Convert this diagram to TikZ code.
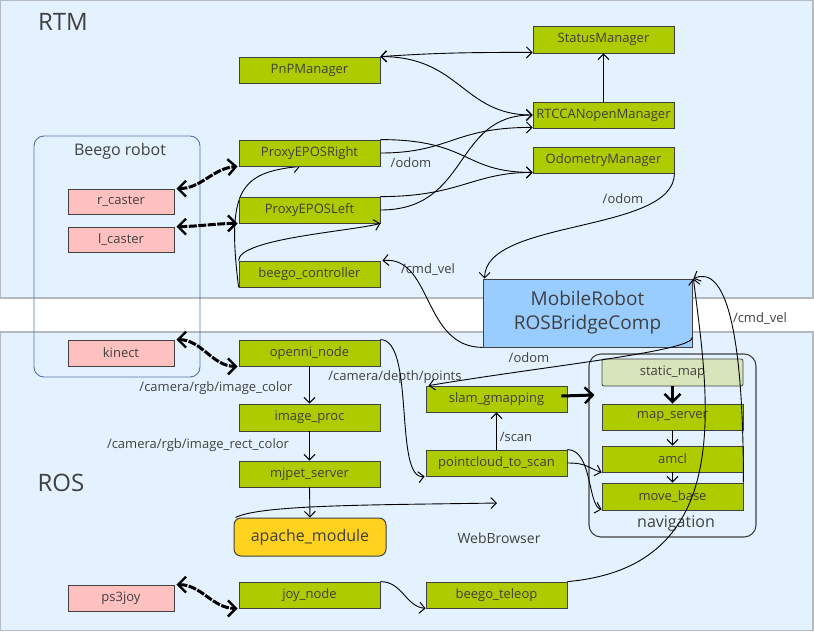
\documentclass[tikz,border=0pt]{standalone}
\usepackage{fontspec}
\setmainfont{Open Sans}
\usetikzlibrary{arrows.meta,backgrounds}
\definecolor{panel}{RGB}{228,242,255}
\definecolor{panelb}{RGB}{180,186,192}
\definecolor{lime}{RGB}{173,204,0}
\definecolor{bord}{RGB}{64,64,64}
\definecolor{pinkbox}{RGB}{255,192,192}
\definecolor{bridge}{RGB}{153,204,255}
\definecolor{apachec}{RGB}{255,210,32}
\definecolor{staticc}{RGB}{216,228,188}
\definecolor{robotb}{RGB}{85,115,165}
\definecolor{txt}{RGB}{64,64,64}
\tikzset{
  comp/.style={draw=bord, fill=lime, line width=0.8pt, minimum width=141pt, minimum height=26pt, inner sep=0pt, text=txt, font=\fontsize{13}{15}\selectfont},
  devbox/.style={comp, fill=pinkbox, minimum width=106pt, minimum height=25pt},
  lbl/.style={text=txt, font=\fontsize{13}{15}\selectfont, inner sep=0pt},
  barb/.tip={Straight Barb[length=5.5pt,width=11pt,line width=1pt]},
  fatbarb/.tip={Straight Barb[length=8pt,width=16pt,line width=2.4pt]},
  conn/.style={line width=0.9pt, -barb},
  biconn/.style={line width=0.9pt, barb-barb},
  fatbi/.style={line width=3pt, dash pattern=on 8pt off 1.5pt, fatbarb-fatbarb},
  fatconn/.style={line width=3pt, -fatbarb},
}
\begin{document}
\begin{tikzpicture}[x=1pt,y=-1pt]
\useasboundingbox (0,0) rectangle (814,632);
% panels
\begin{pgfonlayer}{background}
\filldraw[fill=panel, draw=panelb, line width=1.2pt] (0.6,0.6) rectangle (813,298);
\filldraw[fill=panel, draw=panelb, line width=1.2pt] (0.6,332) rectangle (813,630.5);
\end{pgfonlayer}
\node[text=txt, font=\fontsize{24}{28}\selectfont, inner sep=0pt] (rtm) at (63,22) {RTM};
\node[text=txt, font=\fontsize{24}{28}\selectfont, inner sep=0pt] (ros) at (61,483) {ROS};

% groups
\node[draw=robotb, line width=0.9pt, rounded corners=10pt, minimum width=166pt, minimum height=241pt, inner sep=0pt] (robot) at (117,256.5) {};
\node[lbl, font=\fontsize{16}{18}\selectfont] (robotl) at (120,151) {Beego robot};
\node[draw=bord, line width=1.1pt, rounded corners=12pt, minimum width=167pt, minimum height=183pt, inner sep=0pt] (nav) at (672.5,445.5) {};
\node[lbl, font=\fontsize{16}{18}\selectfont] (navl) at (676,524) {navigation};

% RTM nodes
\node[comp] (pnp) at (309.5,70) {PnPManager};
\node[comp, minimum height=27pt] (status) at (603.5,39.5) {StatusManager};
\node[comp] (rtccan) at (603.5,115) {RTCCANopenManager};
\node[comp] (odom) at (603.5,160) {OdometryManager};
\node[comp] (per) at (309.5,153) {ProxyEPOSRight};
\node[comp] (pel) at (309.5,210) {ProxyEPOSLeft};
\node[comp] (bctrl) at (309.5,274) {beego\_controller};
\node[devbox] (rcaster) at (121,201.5) {r\_caster};
\node[devbox] (lcaster) at (121,239.5) {l\_caster};
\node[devbox, minimum height=26pt] (kinect) at (121,353) {kinect};
\node[devbox, minimum height=26pt] (ps3joy) at (121,598) {ps3joy};
\node[draw=bord, fill=bridge, line width=0.8pt, minimum width=209pt, minimum height=68pt, inner sep=0pt, text=txt, align=center, font=\fontsize{19}{24}\selectfont] (mr) at (587.5,313) {MobileRobot\\ROSBridgeComp};

% ROS nodes
\node[comp] (openni) at (309.5,353) {openni\_node};
\node[comp, minimum height=27pt] (improc) at (309.5,417.5) {image\_proc};
\node[comp] (mjpet) at (309.5,474) {mjpet\_server};
\node[draw=bord, fill=apachec, line width=1pt, rounded corners=7pt, minimum width=152pt, minimum height=38pt, inner sep=0pt, text=txt, font=\fontsize{16}{18}\selectfont] (apache) at (310,537) {apache\_module};
\node[comp] (joy) at (309.5,595) {joy\_node};
\node[comp] (slam) at (496.5,399) {slam\_gmapping};
\node[comp] (pc2s) at (496.5,463) {pointcloud\_to\_scan};
\node[comp] (teleop) at (496.5,595) {beego\_teleop};
\node[comp, fill=staticc, rounded corners=2pt, minimum height=27pt] (static) at (672.5,372.5) {static\_map};
\node[comp] (mapsrv) at (672.5,417) {map\_server};
\node[comp] (amcl) at (672.5,459) {amcl};
\node[comp, minimum height=27pt] (movebase) at (672.5,496.5) {move\_base};
\node[lbl, font=\fontsize{14}{16}\selectfont] (wb) at (499,538) {WebBrowser};
\coordinate (wbin) at (497,503);

% labels
\node[lbl] (l1) at (411,163) {/odom};
\node[lbl] (l2) at (623,199) {/odom};
\node[lbl] (l3) at (428,270) {/cmd\_vel};
\node[lbl] (l4) at (760,319) {/cmd\_vel};
\node[lbl] (l5) at (529,358) {/odom};
\node[lbl] (l6) at (395,377) {/camera/depth/points};
\node[lbl] (l7) at (216,388) {/camera/rgb/image\_color};
\node[lbl] (l8) at (198,445) {/camera/rgb/image\_rect\_color};
\node[lbl] (l9) at (516,437) {/scan};

% RTM connectors
\draw[biconn] (pnp.north east) .. controls +(60,-4) and +(-60,0) .. ([yshift=1pt]status.south west);
\draw[biconn] (pnp.north east) .. controls +(80,0) and +(-70,0) .. (rtccan.west);
\draw[conn] (per.north east) .. controls +(90,0) and +(-70,0) .. ([yshift=1pt]odom.south west);
\draw[conn] (per.east) .. controls +(70,0) and +(-80,0) .. ([yshift=1pt]rtccan.south west);
\draw[conn] (pel.north east) .. controls +(80,0) and +(-60,0) .. ([yshift=1pt]odom.south west);
\draw[conn] (pel.east) .. controls +(90,0) and +(-80,0) .. (rtccan.west);
\draw[conn] (bctrl.north west) .. controls +(0,-22) and +(-30,8) .. (pel.south east);
\begin{pgfonlayer}{background}
\draw[conn] (bctrl.south west) .. controls +(-12,-97) and +(-60,6) .. ([xshift=-9.5pt]per.south);
\end{pgfonlayer}
\draw[fatbi] ([xshift=2pt]rcaster.north east) .. controls +(25,0) and +(-25,2) .. ([xshift=-1pt]per.south west);
\draw[fatbi] ([xshift=2pt]lcaster.north east) .. controls +(20,0) and +(-20,0) .. ([xshift=-1pt]pel.south west);
\draw[fatbi] ([xshift=2pt]kinect.north east) .. controls +(25,0) and +(-25,0) .. ([xshift=-1pt]openni.south west);
\draw[fatbi] ([xshift=2pt]ps3joy.north east) .. controls +(25,0) and +(-25,0) .. ([xshift=-1pt]joy.south west);
\draw[conn] (odom.south east) .. controls +(0,60) and +(0,-60) .. ([xshift=2pt]mr.north west);
\draw[conn] (status.south |- rtccan.north) -- (status.south);

% bridge connectors
\draw[conn] (mr.south west) .. controls +(-60,0) and +(50,-5) .. ([xshift=2pt]bctrl.north east);
\draw[conn] ([yshift=10pt]mr.south east) .. controls +(0,14) and +(120,-20) .. ([xshift=3pt]slam.north west);
\draw[conn] (teleop.north east) .. controls +(170,-15) and +(15,120) .. ([xshift=1pt]mr.north east);
\draw[conn] (movebase.north east) .. controls +(0,-153) and +(32,-14) .. ([xshift=1pt]mr.north east);

% ROS connectors
\draw[conn] (openni.south) -- (improc.north);
\draw[conn] (improc.south) -- (mjpet.north);
\draw[conn] (mjpet.south) -- (apache.north);
\draw[conn] ([xshift=2pt]apache.north west) .. controls +(25,-13) and +(-120,2) .. (wbin);
\draw[conn] (openni.north east) .. controls +(35,0) and +(-31,4) .. ([xshift=-1pt]pc2s.south west);
\draw[conn] (pc2s.north) -- (slam.south);
\draw[fatconn] ([shift={(-6pt,3pt)}]slam.east) -- ([shift={(6pt,4pt)}]slam.east -| nav.west);
\draw[fatconn] (static.south) -- (mapsrv.north);
\draw[conn] (mapsrv.south) -- (amcl.north);
\draw[conn] (amcl.south) -- (movebase.north);
\draw[conn] (pc2s.east) .. controls +(20,0) and +(-15,-5) .. (amcl.south west);
\draw[conn] (pc2s.north east) .. controls +(25,0) and +(-14,-4) .. ([yshift=1pt]movebase.south west);
\draw[conn] (joy.north east) .. controls +(22,0) and +(-20,-2) .. (teleop.south west);
\end{tikzpicture}
\end{document}
